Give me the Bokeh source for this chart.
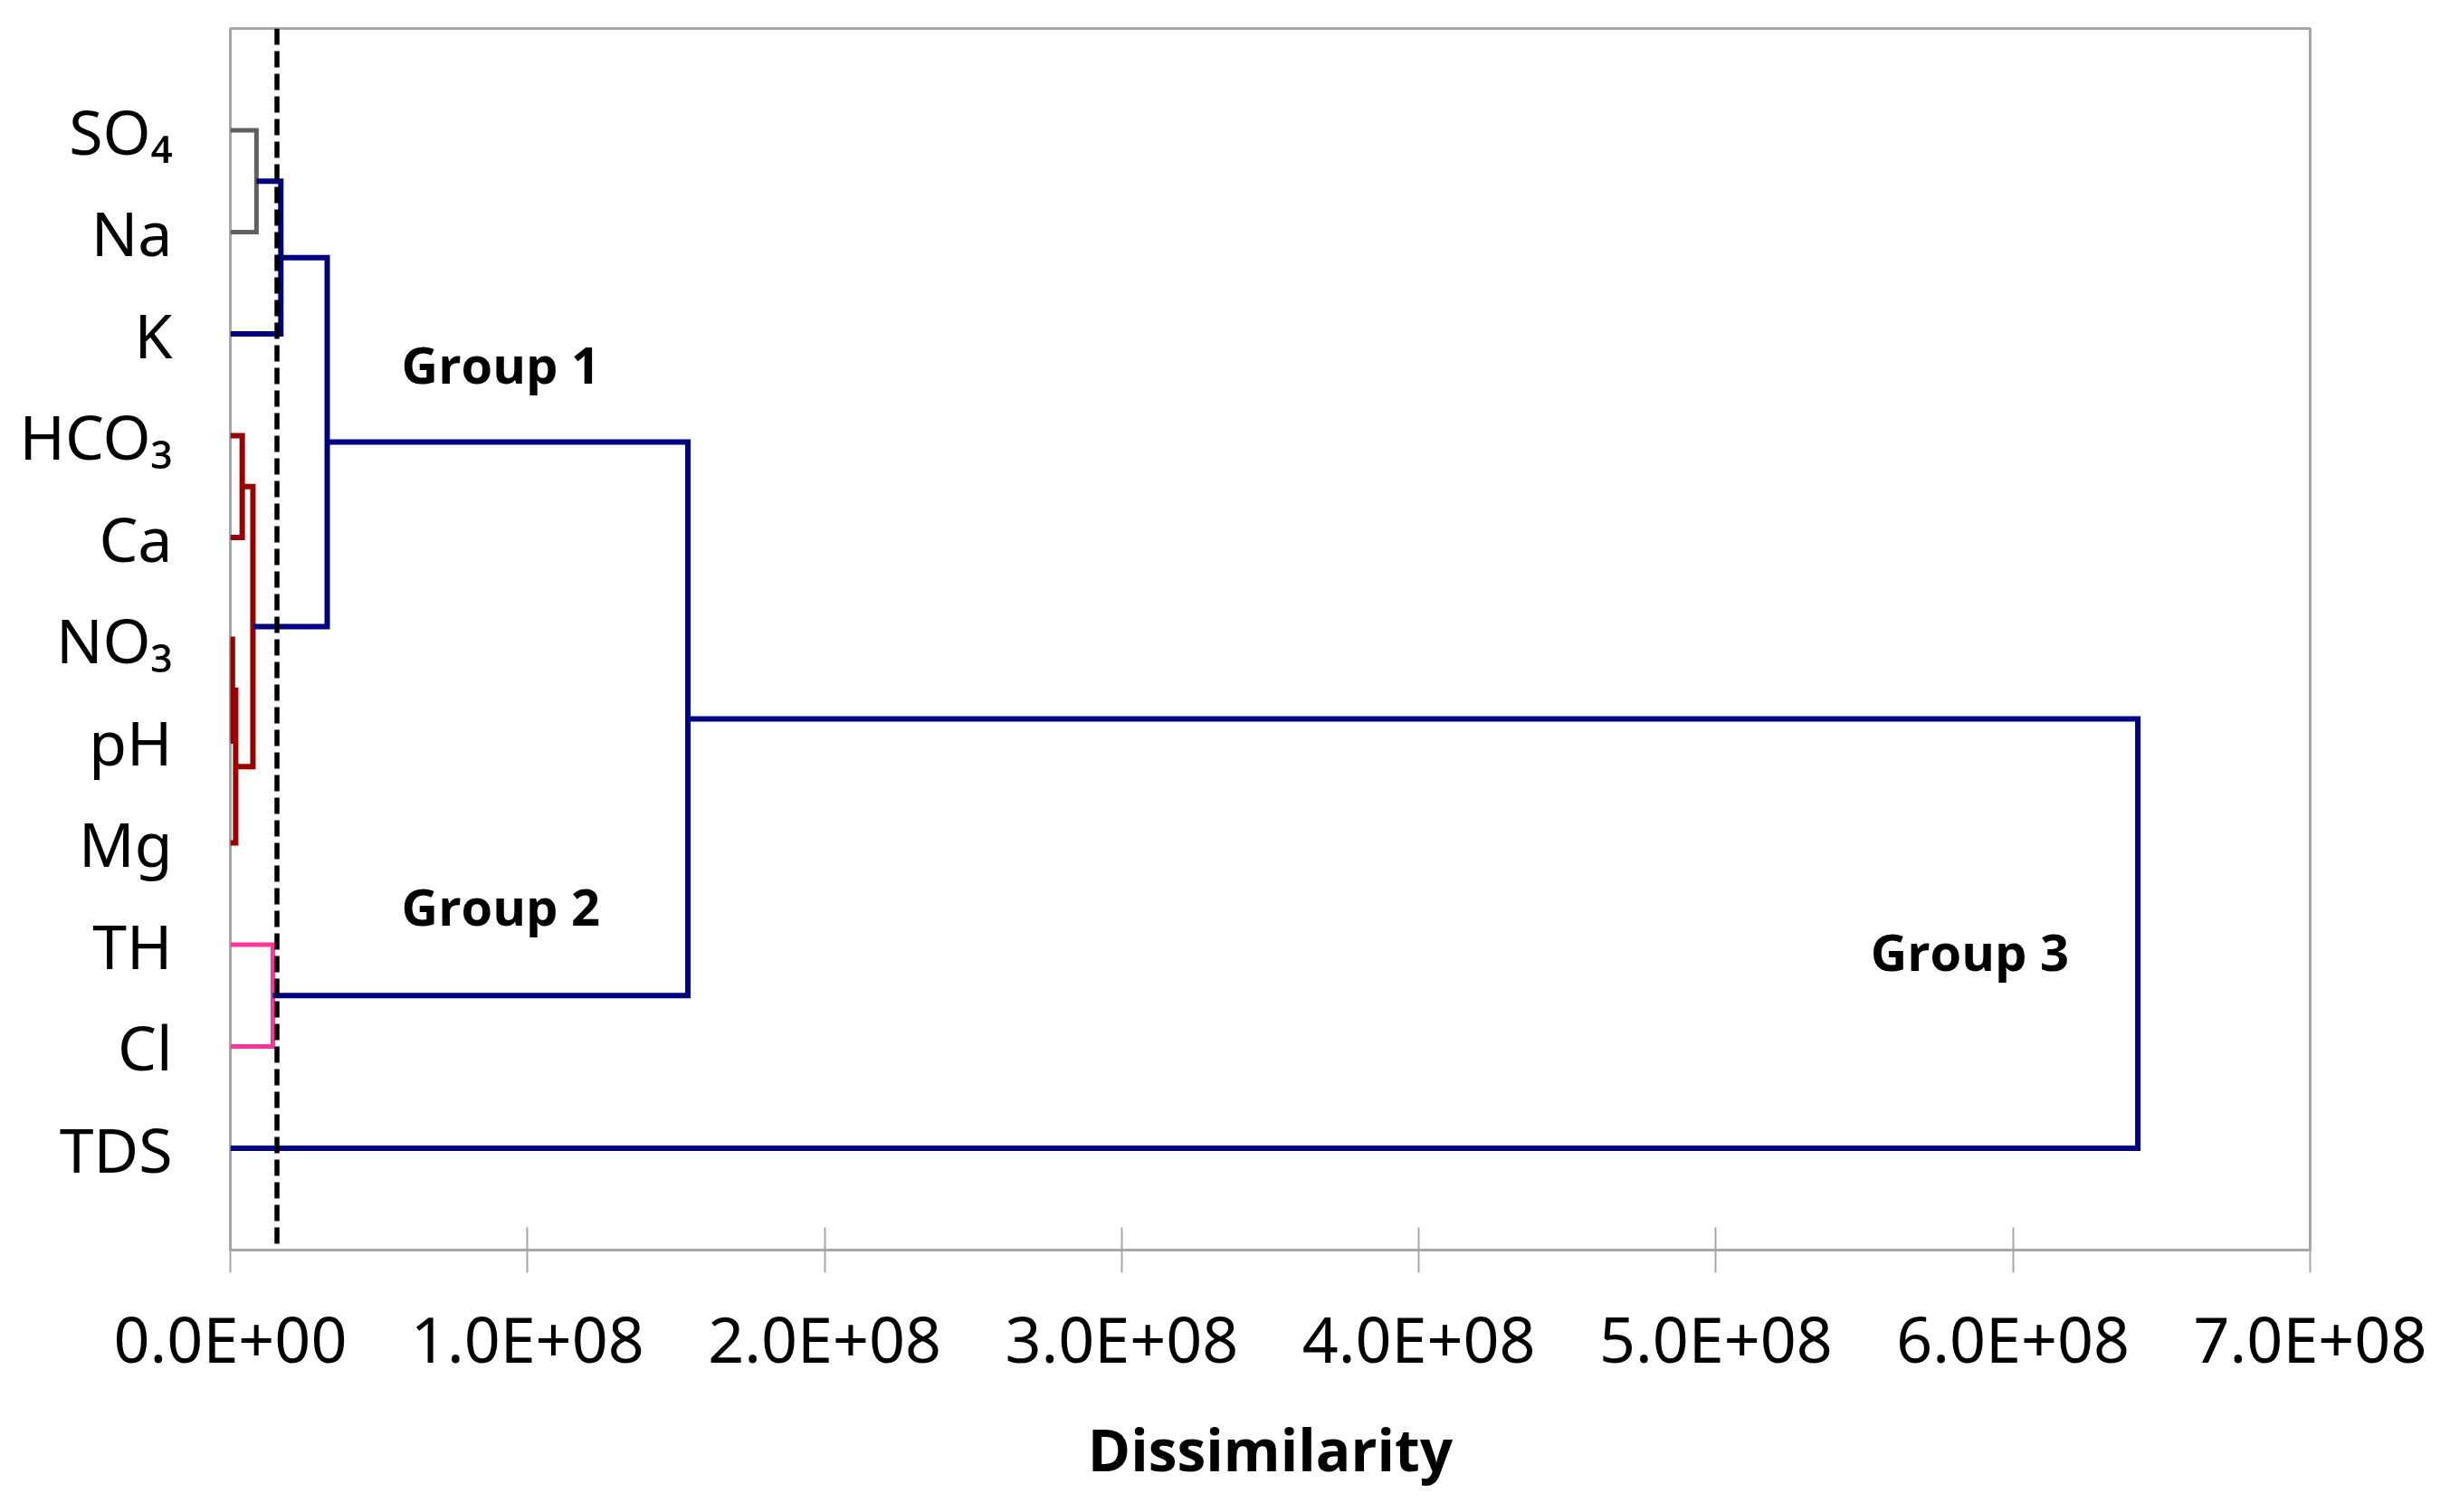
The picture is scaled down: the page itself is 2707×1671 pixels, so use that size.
from bokeh.plotting import figure
from bokeh.models import Range1d, FixedTicker, Span
from bokeh.core.properties import value
from bokeh.embed import file_html
from bokeh.resources import INLINE

# ---------------- data ----------------
leaf_names = ["SO4", "Na", "K", "HCO3", "Ca", "NO3", "pH", "Mg", "TH", "Cl", "TDS"]
leaf_labels = ["SO\u2084", "Na", "K", "HCO\u2083", "Ca", "NO\u2083", "pH", "Mg", "TH", "Cl", "TDS"]

# merges: (left node, right node, dissimilarity, colour group)
merge_left = ["SO4", "m0", "HCO3", "NO3", "m3", "m2", "m1", "TH", "m6", "m8"]
merge_right = ["Na", "K", "Ca", "pH", "Mg", "m4", "m5", "Cl", "m7", "TDS"]
merge_height = [8.8e6, 1.7e7, 4.0e6, 7.0e5, 1.8e6, 7.6e6, 3.26e7, 1.43e7, 1.54e8, 6.42e8]
merge_group = ["gray", "blue", "red", "red", "red", "red", "blue", "pink", "blue", "blue"]

truncation_level = 1.57e7

x_ticks = [0, 100000000, 200000000, 300000000, 400000000, 500000000, 600000000, 700000000]
x_tick_labels = ["0.0E+00", "1.0E+08", "2.0E+08", "3.0E+08", "4.0E+08", "5.0E+08", "6.0E+08", "7.0E+08"]

group_names = ["Group 1", "Group 2", "Group 3"]
group_x = [0.576e8, 0.576e8, 5.52e8]
group_y = [8.71, 3.38, 2.94]

x_label = "Dissimilarity"

# ---------------- styles ----------------
palette = {"gray": "#606060", "blue": "#000080", "red": "#9A0000", "pink": "#FF3399"}
widths = {"gray": 5, "blue": 6, "red": 6, "pink": 5}
FONT = "Noto Sans"
BFONT = "Open Sans"

# ---------------- build dendrogram ----------------
n = len(leaf_names)
pos = {name: float(n - i) for i, name in enumerate(leaf_names)}  # y position of leaf
hgt = {name: 0.0 for name in leaf_names}

xs, ys, cols, lws = [], [], [], []
for k, (a, b, h, g) in enumerate(zip(merge_left, merge_right, merge_height, merge_group)):
    ya, yb = pos[a], pos[b]
    xs.append([hgt[a], h, h, hgt[b]])
    ys.append([ya, ya, yb, yb])
    cols.append(palette[g])
    lws.append(widths[g])
    node = "m%d" % k
    pos[node] = (ya + yb) / 2.0
    hgt[node] = h

p = figure(width=2707, height=1671, output_backend="svg", toolbar_location=None,
           x_range=Range1d(0, 7e8), y_range=Range1d(0, n + 1),
           min_border_left=254, min_border_right=155, min_border_top=31, min_border_bottom=290)

p.multi_line(xs, ys, line_color=cols, line_width=lws, line_join="miter", line_cap="butt")

p.add_layout(Span(location=truncation_level, dimension="height", line_color="black",
                  line_width=5.5, line_dash="18 7"))

p.text(x=group_x, y=group_y, text=group_names, text_font=value(BFONT), text_font_style="bold",
       text_font_size="56px", text_align="left", text_baseline="alphabetic", text_color="black")

p.xgrid.visible = False
p.ygrid.visible = False
p.outline_line_color = "#A6A6A6"
p.outline_line_width = 3
p.background_fill_color = "white"
p.border_fill_color = "white"

xa = p.xaxis[0]
xa.ticker = FixedTicker(ticks=x_ticks)
xa.major_label_overrides = {t: l for t, l in zip(x_ticks, x_tick_labels)}
xa.axis_line_color = "#A6A6A6"
xa.axis_line_width = 3
xa.major_tick_line_color = "#A6A6A6"
xa.major_tick_line_width = 2
xa.major_tick_in = 25
xa.major_tick_out = 25
xa.minor_tick_line_color = None
xa.major_label_text_font = FONT
xa.major_label_text_font_size = "70px"
xa.major_label_text_color = "black"
xa.major_label_standoff = 24
xa.axis_label = x_label
xa.axis_label_text_font = BFONT
xa.axis_label_text_font_style = "bold"
xa.axis_label_text_font_size = "64px"
xa.axis_label_text_color = "black"
xa.axis_label_standoff = 28

ya_ = p.yaxis[0]
ya_.ticker = FixedTicker(ticks=[int(pos[nm]) for nm in leaf_names])
ya_.major_label_overrides = {int(pos[nm]): lab for nm, lab in zip(leaf_names, leaf_labels)}
ya_.axis_line_color = None
ya_.major_tick_line_color = None
ya_.minor_tick_line_color = None
ya_.major_tick_in = 0
ya_.major_tick_out = 0
ya_.major_label_text_font = FONT
ya_.major_label_text_font_size = "68px"
ya_.major_label_text_color = "black"
ya_.major_label_standoff = 64

open("out.html", "w").write(file_html(p, INLINE))
